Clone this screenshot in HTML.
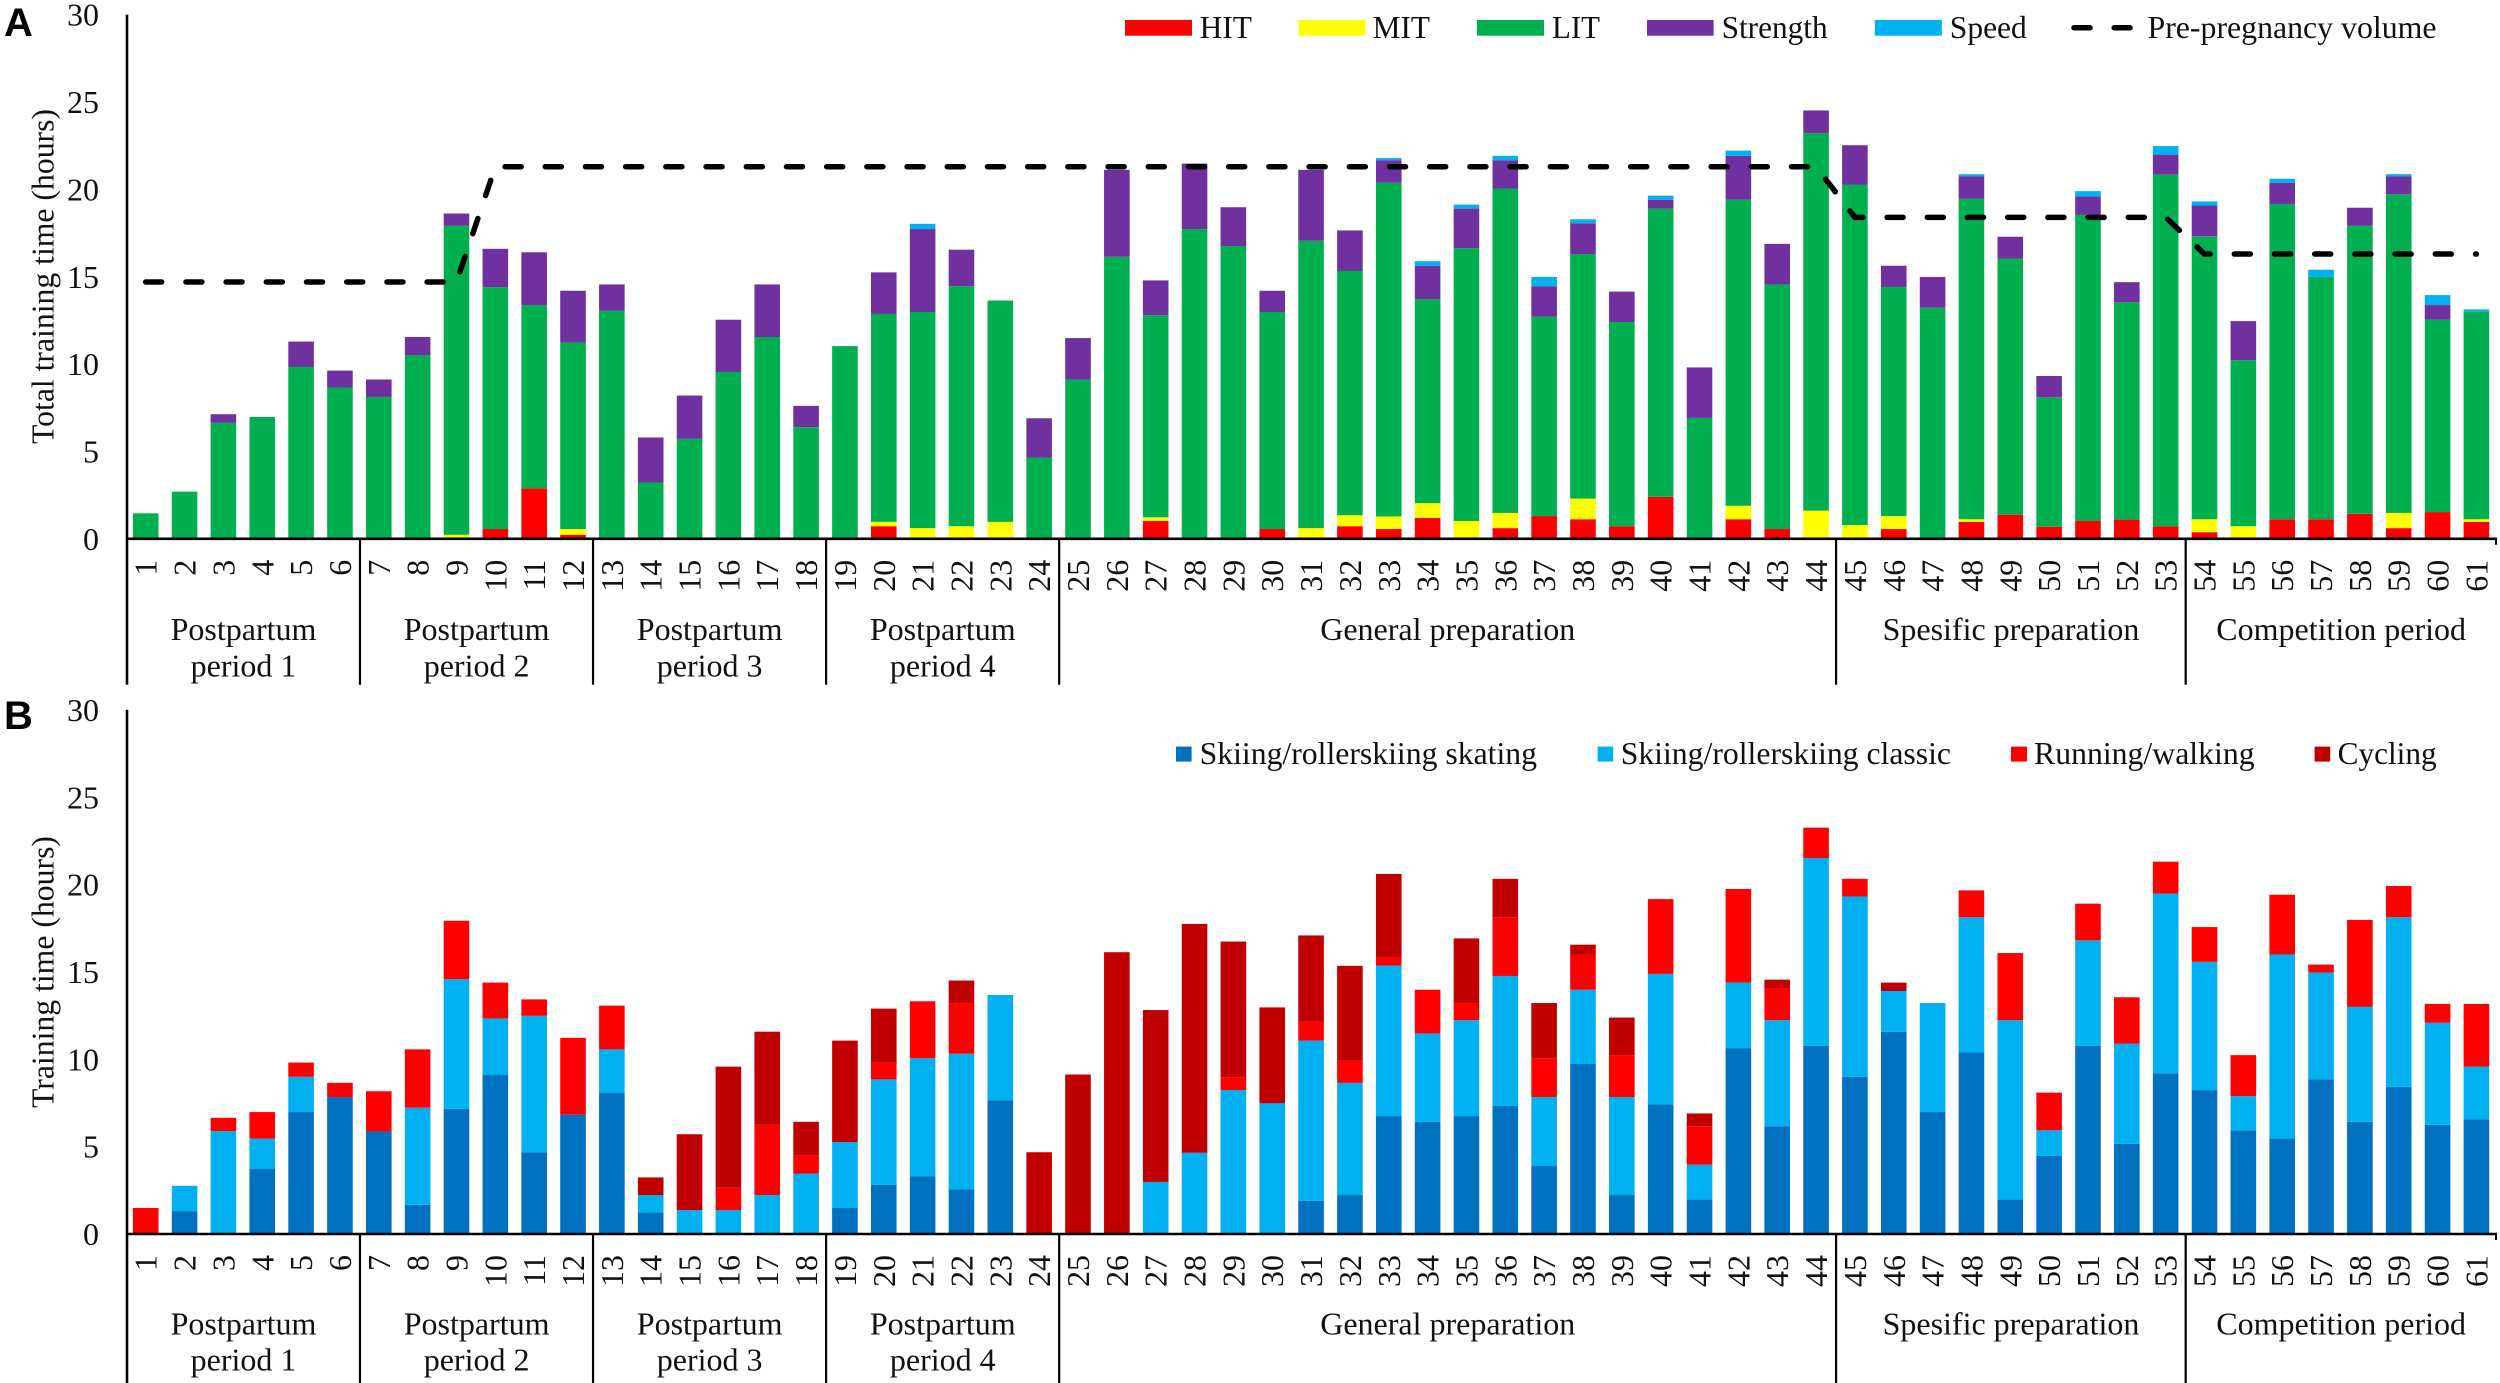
<!DOCTYPE html>
<html lang="en">
<head>
<meta charset="utf-8">
<title>Training time charts</title>
<style>
html,body{margin:0;padding:0;background:#fff;}
svg{display:block;}
text{font-family:"Liberation Serif",serif;font-size:32px;fill:#111;}
.letter{font-family:"Liberation Sans",sans-serif;font-weight:bold;font-size:40px;fill:#000;}
</style>
</head>
<body>
<svg id="figure" xmlns="http://www.w3.org/2000/svg" width="2500" height="1383" viewBox="0 0 2500 1383">
  <rect x="0" y="0" width="2500" height="1383" fill="#ffffff"/>
  <text class="letter" x="4" y="36">A</text>
  <text class="letter" x="4" y="729">B</text>

  <text transform="translate(53.5 276.5) rotate(-90)" text-anchor="middle" textLength="335" lengthAdjust="spacingAndGlyphs">Total training time (hours)</text>
  <text transform="translate(53.5 972) rotate(-90)" text-anchor="middle" textLength="272" lengthAdjust="spacingAndGlyphs">Training time (hours)</text>

  <g id="chart-a"></g>
  <g id="chart-b"></g>

  <g>
    <g><rect x="1125" y="20" width="67" height="15.7" fill="#ff0000"/><text x="1199.6" y="38" textLength="52.4" lengthAdjust="spacingAndGlyphs">HIT</text></g>
    <g><rect x="1298.7" y="20" width="66.8" height="15.7" fill="#ffff00"/><text x="1372.6" y="38" textLength="57.4" lengthAdjust="spacingAndGlyphs">MIT</text></g>
    <g><rect x="1477" y="20" width="67" height="15.7" fill="#00b050"/><text x="1552" y="38" textLength="48" lengthAdjust="spacingAndGlyphs">LIT</text></g>
    <g><rect x="1647" y="20" width="66.6" height="15.7" fill="#7030a0"/><text x="1721.6" y="38" textLength="106" lengthAdjust="spacingAndGlyphs">Strength</text></g>
    <g><rect x="1874.8" y="20" width="67" height="15.7" fill="#00b0f0"/><text x="1949.8" y="38" textLength="77" lengthAdjust="spacingAndGlyphs">Speed</text></g>
    <g><line x1="2074" y1="27.7" x2="2130" y2="27.7" stroke="#000" stroke-width="5.5" stroke-linecap="round" stroke-dasharray="16 24.2"/><text x="2147.5" y="38" textLength="289" lengthAdjust="spacingAndGlyphs">Pre-pregnancy volume</text></g>
  </g>

  <g>
    <g><rect x="1176" y="746.6" width="15.6" height="15" fill="#0070c0"/><text x="1199.6" y="764" textLength="337.4" lengthAdjust="spacingAndGlyphs">Skiing/rollerskiing skating</text></g>
    <g><rect x="1597.6" y="746.6" width="15.6" height="15" fill="#00b0f0"/><text x="1620.7" y="764" textLength="330.3" lengthAdjust="spacingAndGlyphs">Skiing/rollerskiing classic</text></g>
    <g><rect x="2011" y="746.6" width="16" height="15" fill="#ff0000"/><text x="2034" y="764" textLength="220.6" lengthAdjust="spacingAndGlyphs">Running/walking</text></g>
    <g><rect x="2314.6" y="746.6" width="15.6" height="15" fill="#c00000"/><text x="2337.6" y="764" textLength="99" lengthAdjust="spacingAndGlyphs">Cycling</text></g>
  </g>
</svg>
<script>
const categories = [1,2,3,4,5,6,7,8,9,10,11,12,13,14,15,16,17,18,19,20,21,22,23,24,25,26,27,28,29,30,31,32,33,34,35,36,37,38,39,40,41,42,43,44,45,46,47,48,49,50,51,52,53,54,55,56,57,58,59,60,61];
const yTickLabels = [0,5,10,15,20,25,30];
const periodSizes = [6,6,6,6,20,9,8];
const periodLabels = [["Postpartum","period 1"],["Postpartum","period 2"],["Postpartum","period 3"],["Postpartum","period 4"],["General preparation"],["Spesific preparation"],["Competition period"]];

const hit = [0,0,0,0,0,0,0,0,0.02,0.56,2.89,0.23,0,0,0,0,0,0,0,0.72,0,0,0,0,0,0,1.02,0,0,0.56,0,0.72,0.56,1.2,0,0.61,1.3,1.12,0.72,2.4,0,1.12,0.56,0,0,0.56,0,0.97,1.38,0.69,1.02,1.1,0.72,0.38,0,1.12,1.12,1.43,0.61,1.53,0.97];
const mit = [0,0,0,0,0,0,0,0,0.21,0,0,0.33,0,0,0,0,0,0,0,0.25,0.61,0.72,0.97,0,0,0,0.21,0,0,0,0.61,0.63,0.72,0.84,1.02,0.87,0,1.18,0,0,0,0.77,0,1.61,0.79,0.74,0,0.15,0,0,0,0,0,0.74,0.72,0,0,0,0.87,0,0.15];
const lit = [1.46,2.7,6.64,6.97,9.83,8.66,8.12,10.52,17.7,13.84,10.49,10.68,13.05,3.22,5.72,9.55,11.55,6.39,11.03,11.9,12.37,13.74,12.67,4.65,9.12,16.14,11.57,17.73,16.76,12.42,16.45,13.98,19.1,11.68,15.61,18.57,11.42,14,11.69,16.5,6.92,17.52,14,21.61,19.49,13.11,13.23,18.34,14.66,7.41,17.52,12.44,20.12,16.2,9.5,18.04,13.87,16.5,18.24,11.01,11.88];
const strength = [0,0,0.49,0,1.46,0.97,1,1.03,0.69,2.2,3.02,2.96,1.51,2.58,2.48,2.99,3.01,1.22,0,2.38,4.75,2.09,0,2.25,2.37,4.98,1.99,3.75,2.22,1.22,4.06,2.32,1.28,1.91,2.27,1.61,1.74,1.76,1.74,0.51,2.89,2.51,2.32,1.3,2.25,1.22,1.76,1.28,1.25,1.22,1.05,1.15,1.15,1.76,2.24,1.22,0,1.02,1.02,0.84,0];
const speed = [0,0,0,0,0,0,0,0,0,0,0,0,0,0,0,0,0,0,0,0,0.3,0,0,0,0,0,0,0,0,0,0,0,0.13,0.26,0.23,0.26,0.53,0.23,0,0.23,0,0.3,0,0,0,0,0,0.13,0,0,0.31,0,0.49,0.23,0,0.23,0.41,0,0.13,0.57,0.13];
const preVolume = [14.7,14.7,14.7,14.7,14.7,14.7,14.7,14.7,14.7,21.3,21.3,21.3,21.3,21.3,21.3,21.3,21.3,21.3,21.3,21.3,21.3,21.3,21.3,21.3,21.3,21.3,21.3,21.3,21.3,21.3,21.3,21.3,21.3,21.3,21.3,21.3,21.3,21.3,21.3,21.3,21.3,21.3,21.3,21.3,18.4,18.4,18.4,18.4,18.4,18.4,18.4,18.4,18.4,16.3,16.3,16.3,16.3,16.3,16.3,16.3,16.3];

const skating = [0,1.31,0,3.72,6.98,7.84,5.87,1.67,7.16,9.1,4.68,6.83,8.07,1.24,0,0,0,0,1.49,2.81,3.31,2.55,7.66,0,0,0,0,0,0,0,1.9,2.23,6.75,6.42,6.75,7.33,3.89,9.73,2.23,7.41,1.97,10.64,6.17,10.77,9,11.58,6.98,10.39,1.97,4.48,10.77,5.16,9.2,8.24,5.92,5.46,8.85,6.42,8.42,6.25,6.57];
const classic = [0,1.45,5.89,1.74,2.02,0,0,5.56,7.43,3.24,7.81,0,2.5,0.99,1.37,1.37,2.23,3.46,3.77,6.04,6.75,7.77,6.02,0,0,0,2.98,4.65,8.24,7.48,9.17,6.42,8.62,5.06,5.49,7.44,3.95,4.25,5.61,7.48,2,3.75,6.07,10.75,10.32,2.33,6.24,7.74,10.27,1.46,6.04,5.74,10.29,7.34,1.97,10.54,6.12,6.58,9.71,5.84,3.01];
const running = [1.49,0,0.76,1.52,0.81,0.81,2.3,3.34,3.34,2.05,0.94,4.4,2.5,0,0,1.28,4.02,1.04,0,0.96,3.26,2.9,0,0,0,0,0,0,0.74,0,1.09,1.26,0.46,2.5,0.98,3.36,2.22,2.02,2.4,4.28,2.2,5.36,1.84,1.74,1.01,0,0,1.54,3.84,2.15,2.1,2.65,1.82,1.99,2.35,3.42,0.45,4.98,1.79,1.08,3.59];
const cycling = [0,0,0,0,0,0,0,0,0,0,0,0,0,1.01,4.34,6.93,5.33,1.92,5.81,3.09,0,1.29,0,4.68,9.13,16.13,9.84,13.1,7.76,5.49,4.93,5.44,4.78,0,3.7,2.2,3.16,0.56,2.15,0,0.73,0,0.48,0,0,0.48,0,0,0,0,0,0,0,0,0,0,0,0,0,0,0];

const NS = 'http://www.w3.org/2000/svg';
const plotLeft = 127;
const plotRight = 2496;
const bandOrigin = 126.3;
const bandStep = 38.845;
const barWidth = 25.6;
const yMax = 30;

function xCenter(i){ return bandOrigin + bandStep * (i + 0.5); }
function xEdge(n){ return bandOrigin + bandStep * n; }

function makeYScale(top, bottom){
  return function(v){ return bottom - (bottom - top) * v / yMax; };
}

function drawChart(target, opts){
  const y = makeYScale(opts.top, opts.baseline);

  opts.series.forEach(function(s){
    categories.forEach(function(cat, i){
      let start = 0;
      opts.series.forEach(function(other){
        if (opts.series.indexOf(other) < opts.series.indexOf(s)) start += other.values[i];
      });
      const v = s.values[i];
      if (v <= 0) return;
      const r = document.createElementNS(NS, 'rect');
      
      
      r.setAttribute('x', (xCenter(i) - barWidth / 2).toFixed(2));
      r.setAttribute('y', y(start + v).toFixed(2));
      r.setAttribute('width', barWidth);
      r.setAttribute('height', (y(start) - y(start + v)).toFixed(2));
      r.setAttribute('fill', s.color);
      target.appendChild(r);
    });
  });

  const yAxis = document.createElementNS(NS, 'line');
  
  
  yAxis.setAttribute('x1', plotLeft);
  yAxis.setAttribute('x2', plotLeft);
  yAxis.setAttribute('y1', opts.top);
  yAxis.setAttribute('y2', opts.dividerBottom);
  yAxis.setAttribute('stroke', '#000');
  yAxis.setAttribute('stroke-width', '2.6');
  target.appendChild(yAxis);

  const xAxis = document.createElementNS(NS, 'line');
  
  
  xAxis.setAttribute('x1', plotLeft);
  xAxis.setAttribute('x2', plotRight + 1);
  xAxis.setAttribute('y1', opts.baseline);
  xAxis.setAttribute('y2', opts.baseline);
  xAxis.setAttribute('stroke', '#000');
  xAxis.setAttribute('stroke-width', '2.6');
  target.appendChild(xAxis);

  const endTick = document.createElementNS(NS, 'line');
  
  
  endTick.setAttribute('x1', plotRight);
  endTick.setAttribute('x2', plotRight);
  endTick.setAttribute('y1', opts.baseline);
  endTick.setAttribute('y2', opts.baseline + 6);
  endTick.setAttribute('stroke', '#000');
  endTick.setAttribute('stroke-width', '2');
  target.appendChild(endTick);

  yTickLabels.forEach(function(t){
    const label = document.createElementNS(NS, 'text');
    
    
    label.setAttribute('x', 99);
    label.setAttribute('y', (y(t) + 11).toFixed(2));
    label.setAttribute('text-anchor', 'end');
    label.textContent = t;
    target.appendChild(label);
  });

  categories.forEach(function(cat, i){
    const label = document.createElementNS(NS, 'text');
    
    
    label.setAttribute('transform', 'translate(' + (xCenter(i) + 11).toFixed(2) + ' ' + (opts.baseline + 21) + ') rotate(-90)');
    label.setAttribute('text-anchor', 'end');
    label.textContent = cat;
    target.appendChild(label);
  });

  let cursor = 0;
  periodSizes.forEach(function(size, p){
    const left = xEdge(cursor);
    const right = xEdge(cursor + size);
    const mid = (left + right) / 2 + 0.7;
    if (p > 0) {
      const div = document.createElementNS(NS, 'line');
      
      
      div.setAttribute('x1', (left + 0.6).toFixed(2));
      div.setAttribute('x2', (left + 0.6).toFixed(2));
      div.setAttribute('y1', opts.baseline);
      div.setAttribute('y2', opts.dividerBottom);
      div.setAttribute('stroke', '#000');
      div.setAttribute('stroke-width', '2.2');
      target.appendChild(div);
    }
    periodLabels[p].forEach(function(line, k){
      const label = document.createElementNS(NS, 'text');
      
      
      label.setAttribute('x', mid.toFixed(2));
      label.setAttribute('y', opts.labelBaseline + k * opts.labelLeading);
      label.setAttribute('text-anchor', 'middle');
      label.textContent = line;
      target.appendChild(label);
    });
    cursor += size;
  });

  if (opts.line) {
    const pts = opts.line.map(function(v, i){ return xCenter(i).toFixed(2) + ',' + y(v).toFixed(2); }).join(' ');
    const poly = document.createElementNS(NS, 'polyline');
    
    
    poly.setAttribute('points', pts);
    poly.setAttribute('fill', 'none');
    poly.setAttribute('stroke', '#000');
    poly.setAttribute('stroke-width', '5.5');
    poly.setAttribute('stroke-linecap', 'round');
    poly.setAttribute('stroke-linejoin', 'round');
    poly.setAttribute('stroke-dasharray', '16 24.2');
    target.appendChild(poly);
  }
}

drawChart(document.getElementById('chart-a'), {
  prefix: 'panel-a', top: 14.7, baseline: 538.8, dividerBottom: 684.7,
  labelBaseline: 640, labelLeading: 36.3,
  series: [
    {key:'hit', values:hit, color:'#ff0000'},
    {key:'mit', values:mit, color:'#ffff00'},
    {key:'lit', values:lit, color:'#00b050'},
    {key:'strength', values:strength, color:'#7030a0'},
    {key:'speed', values:speed, color:'#00b0f0'}
  ],
  line: preVolume
});

drawChart(document.getElementById('chart-b'), {
  prefix: 'panel-b', top: 709.9, baseline: 1234, dividerBottom: 1383,
  labelBaseline: 1334.4, labelLeading: 36.3,
  series: [
    {key:'skating', values:skating, color:'#0070c0'},
    {key:'classic', values:classic, color:'#00b0f0'},
    {key:'running', values:running, color:'#ff0000'},
    {key:'cycling', values:cycling, color:'#c00000'}
  ],
  line: null
});
</script>
</body>
</html>
